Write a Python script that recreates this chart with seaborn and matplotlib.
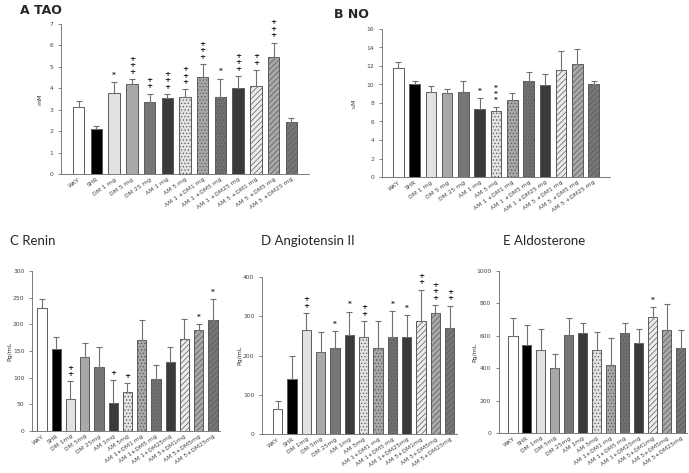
import numpy as np
import pandas as pd
import matplotlib
matplotlib.use("Agg")
import matplotlib.pyplot as plt
import seaborn as sns

sns.set_style("ticks")
plt.rcParams['font.family'] = ['DejaVu Sans']
plt.rcParams['hatch.linewidth'] = 0.5

# ---------------- data ----------------
groups_top = ["WKY", "SHR", "DM 1 mg", "DM 5 mg", "DM 25 mg", "AM 1 mg", "AM 5 mg",
              "AM 1 +DM1 mg", "AM 1 +DM5 mg", "AM 1 +DM25 mg", "AM 5 +DM1 mg",
              "AM 5 +DM5 mg", "AM 5 +DM25 mg"]
groups_bottom = ["WKY", "SHR", "DM 1mg", "DM 5mg", "DM 25mg", "AM 1mg", "AM 5mg",
                 "AM 1+DM1 mg", "AM 1+DM5 mg", "AM 1+DM25mg", "AM 5+DM1mg",
                 "AM 5+DM5mg", "AM 5+DM25mg"]

tao_mean = [3.12, 2.11, 3.80, 4.21, 3.35, 3.53, 3.59, 4.53, 3.58, 4.01, 4.11, 5.47, 2.44]
tao_err = [0.27, 0.14, 0.49, 0.21, 0.40, 0.19, 0.36, 0.59, 0.87, 0.55, 0.73, 0.66, 0.16]
tao_marks = ["", "", "*", "+++", "++", "+++", "+++", "+++", "*", "+++", "++", "+++", ""]

no_mean = [11.76, 10.10, 9.20, 9.03, 9.20, 7.30, 7.09, 8.30, 10.43, 9.93, 11.55, 12.19, 10.04]
no_err = [0.72, 0.30, 0.62, 0.50, 1.20, 1.19, 0.43, 0.80, 0.90, 1.17, 2.12, 1.69, 0.39]
no_marks = ["", "", "", "", "", "*", "***", "", "", "", "", "", ""]

renin_mean = [231, 153, 60, 138, 120, 52, 73, 171, 98, 130, 173, 190, 208]
renin_err = [17, 24, 33, 27, 38, 44, 17, 38, 26, 28, 37, 11, 40]
renin_marks = ["", "", "++", "", "", "+", "+", "", "", "", "", "*", "*"]

ang_mean = [63, 140, 264, 209, 219, 252, 246, 219, 247, 246, 288, 308, 269]
ang_err = [21, 59, 44, 50, 43, 60, 42, 68, 67, 58, 80, 20, 58]
ang_marks = ["", "", "++", "", "*", "*", "++", "", "*", "*", "++", "+++", "++"]

ald_mean = [598, 542, 515, 400, 606, 619, 511, 419, 619, 557, 713, 633, 524]
ald_err = [113, 126, 126, 89, 105, 57, 110, 165, 57, 88, 62, 161, 111]
ald_marks = ["", "", "", "", "", "", "", "", "", "", "*", "", ""]

# ---------------- styling ----------------
colors = ['#ffffff', '#000000', '#e2e2e2', '#a8a8a8', '#767676', '#3a3a3a', '#e2e2e2',
          '#a8a8a8', '#707070', '#3a3a3a', '#ececec', '#a8a8a8', '#767676']
hatches = ['', '', '', '', '', '', '.....', '.....', '.....', '', '//////', '//////', '//////']

W, H = 689, 473
fig = plt.figure(figsize=(W / 100, H / 100), dpi=100)


def make_axes(left, right, top, bottom):
    return fig.add_axes([left / W, 1 - bottom / H, (right - left) / W, (bottom - top) / H])


def panel(ax, labels, mean, err, marks, yticks, ylabel, xlim, ylabel_x, mark_dy=4.8):
    df = pd.DataFrame({"group": labels, "value": mean})
    sns.barplot(data=df, x="group", y="value", hue="group", palette=colors,
                order=labels, hue_order=labels, legend=False, width=0.65,
                edgecolor='#5a5a5a', linewidth=0.7, errorbar=None, ax=ax, saturation=1)
    for p, h in zip(ax.patches, hatches):
        p.set_hatch(h)
    x = np.arange(len(labels))
    ax.errorbar(x, mean, yerr=[np.zeros(len(mean)), err], fmt='none',
                ecolor='#707070', elinewidth=0.8, capsize=2.2, capthick=0.8, zorder=1)
    tops = np.array(mean) + np.array(err)
    for xi, t, m in zip(x, tops, marks):
        for k, ch in enumerate(m):
            ax.annotate(ch, xy=(xi, t), xytext=(0, 3.0 + k * mark_dy), textcoords='offset points',
                        ha='center', va='bottom', fontsize=5.2, fontweight='bold', color='#1a1a1a')
    ax.set_ylim(yticks[0], yticks[-1])
    ax.set_yticks(yticks)
    ax.set_xlim(*xlim)
    ax.set_xlabel("")
    ax.set_ylabel(ylabel, fontsize=4.5, color='#333333')
    ax.yaxis.set_label_coords(ylabel_x, 0.5)
    ax.set_xticks(x)
    ax.set_xticklabels(labels, rotation=35, ha='right', rotation_mode='anchor',
                       fontsize=4.3, color='#444444')
    ax.tick_params(axis='y', labelsize=4.3, labelcolor='#444444', length=2, width=0.5, colors='#555555')
    ax.tick_params(axis='x', length=0, pad=2)
    for lab in ax.get_yticklabels():
        lab.set_color('#444444')
    for lab in ax.get_xticklabels():
        lab.set_color('#444444')
    sns.despine(ax=ax)
    for s in ['left', 'bottom']:
        ax.spines[s].set_color('#666666')
        ax.spines[s].set_linewidth(0.6)


axA = make_axes(61, 309, 24, 174)
panel(axA, groups_top, tao_mean, tao_err, tao_marks, list(range(0, 8)), "mM", (-1.0, 13.0), -0.077)
axB = make_axes(382, 610, 29, 177)
panel(axB, groups_top, no_mean, no_err, no_marks, list(range(0, 17, 2)), "uM", (-1.0, 13.0), -0.11, mark_dy=4.5)
axC = make_axes(32, 220, 271, 431)
panel(axC, groups_bottom, renin_mean, renin_err, renin_marks, list(range(0, 301, 50)), "Pg/mL", (-0.7, 12.5), -0.106)
axD = make_axes(262, 457, 277, 434)
panel(axD, groups_bottom, ang_mean, ang_err, ang_marks, list(range(0, 401, 100)), "Pg/mL", (-1.1, 12.5), -0.10)
axE = make_axes(499, 687, 271, 433)
panel(axE, groups_bottom, ald_mean, ald_err, ald_marks, list(range(0, 1001, 200)), "Pg/mL", (-1.0, 12.45), -0.117)

fig.text(20 / W, 1 - 10 / H, "A TAO", fontsize=9, fontweight='bold', va='center', ha='left')
fig.text(334 / W, 1 - 14 / H, "B NO", fontsize=9, fontweight='bold', va='center', ha='left')
fig.text(10 / W, 1 - 241 / H, "C Renin", fontsize=9.5, family=['Lato', 'DejaVu Sans'], va='center', ha='left')
fig.text(261 / W, 1 - 241 / H, "D Angiotensin II", fontsize=9.5, family=['Lato', 'DejaVu Sans'], va='center', ha='left')
fig.text(503 / W, 1 - 241 / H, "E Aldosterone", fontsize=9.5, family=['Lato', 'DejaVu Sans'], va='center', ha='left')

fig.savefig("out.png", dpi=100, facecolor='white')
